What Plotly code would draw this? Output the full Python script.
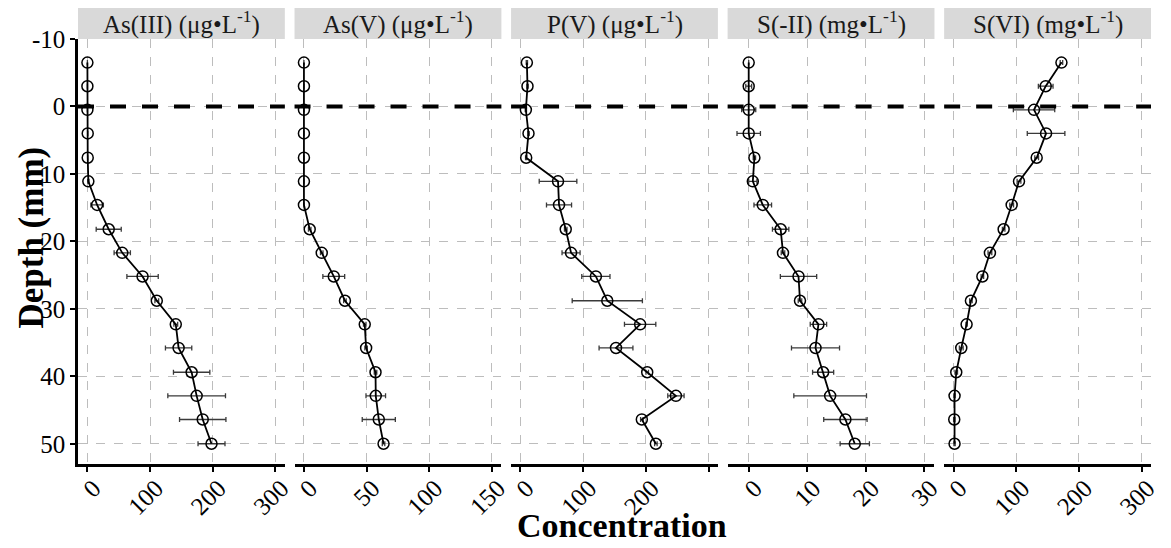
import plotly.graph_objects as go

depth = [-6.5, -3.0, 0.5, 4.0, 7.6, 11.1, 14.6, 18.2, 21.7, 25.2, 28.8, 32.3, 35.8, 39.4, 42.9, 46.4, 50.0]

as3 = [0, 0, 0, 0.5, 0.5, 1.5, 15.5, 34, 55.6, 88, 110.7, 141, 145.5, 166.3, 174.3, 184, 198]
as3_err = [0, 0, 0, 0, 0, 1, 10, 20, 13, 25, 3, 3, 21, 29, 46, 37, 21.5]

as5 = [0, 0, 0, 0, 0, 0, 0, 4.6, 14.2, 23.8, 32.7, 48.5, 49.6, 57.1, 57.3, 59.7, 63.5]
as5_err = [0, 0, 0, 0, 0, 0, 0, 1, 1, 8.7, 1, 1, 1, 1, 7.8, 13.2, 1]

p5 = [10.2, 11.2, 8.6, 12.8, 9.1, 59.9, 61.5, 72.2, 80.7, 120.3, 138.5, 190.9, 152.4, 202.2, 248, 193.6, 216]
p5_err = [1, 1, 1, 1, 1, 30, 20, 2, 14.4, 22.5, 56, 25, 27, 2, 13, 2, 2]

s2 = [0, 0, 0, 0, 0.97, 0.7, 2.4, 5.45, 5.85, 8.5, 8.75, 11.9, 11.4, 12.7, 13.9, 16.5, 18.1]
s2_err = [0, 0.5, 1.2, 2.0, 0.2, 0.7, 1.5, 1.4, 0.3, 3.1, 0.3, 1.4, 4.1, 1.8, 6.2, 3.7, 2.5]

s6 = [172.1, 147, 128.4, 147.6, 132.6, 104.4, 92.7, 79.9, 58, 46, 27.7, 20.8, 12.3, 4.3, 1.6, 1.1, 1.6]
s6_err = [2, 11.7, 33, 30, 3, 3, 3, 2, 3, 2, 2, 1, 3, 2, 1, 1, 1]

panel_titles = ["As(III) (μg•L<sup>-1</sup>)", "As(V) (μg•L<sup>-1</sup>)", "P(V) (μg•L<sup>-1</sup>)",
                "S(-II) (mg•L<sup>-1</sup>)", "S(VI) (mg•L<sup>-1</sup>)"]
series = [as3, as5, p5, s2, s6]
errors = [as3_err, as5_err, p5_err, s2_err, s6_err]
x_ranges = [[-15, 315], [-7.5, 157.5], [-15, 315], [-3.6, 31.7], [-15, 315]]
x_ticks = [[0, 100, 200, 300], [0, 50, 100, 150], [0, 100, 200, 300], [0, 10, 20, 30], [0, 100, 200, 300]]
x_ticktext = [["0", "100", "200", "300"], ["0", "50", "100", "150"], ["0", "100", "200", ""],
              ["0", "10", "20", "30"], ["0", "100", "200", "300"]]
y_ticks = [-10, 0, 10, 20, 30, 40, 50]
y_ticktext = ["-10", "0", "10", "20", "30", "40", "50"]

FONT = "Liberation Serif"
OFF = 8  # the page body has an 8px margin; the figure is drawn 8px right/down
W, H = 1171 - OFF, 548 - OFF
ML, MR, MT, MB = 77.5 - OFF, 19.7, 39 - OFF, 84
plot_w = W - ML - MR
plot_h = H - MT - MB
panel_w = 207 / plot_w
gap = (1 - 5 * panel_w) / 4
strip_h = 33 / plot_h

fig = go.Figure()
layout = dict(
    width=W, height=H,
    margin=dict(l=ML, r=MR, t=MT, b=MB, pad=0, autoexpand=False),
    paper_bgcolor="white", plot_bgcolor="white",
    showlegend=False,
    font=dict(family=FONT, color="black", size=24),
)
shapes = []
annotations = []
for i in range(5):
    xa = "x" if i == 0 else f"x{i+1}"
    xname = "xaxis" if i == 0 else f"xaxis{i+1}"
    d0 = i * (panel_w + gap)
    fig.add_trace(go.Scatter(
        x=series[i], y=depth, xaxis=xa, yaxis="y",
        mode="lines+markers",
        line=dict(color="black", width=1.8),
        marker=dict(symbol="circle-open", size=11, color="black", line=dict(width=1.5, color="black")),
        error_x=dict(type="data", array=errors[i], visible=True, color="#3a3a3a", thickness=1.3, width=2.5),
    ))
    layout[xname] = dict(
        domain=[d0, d0 + panel_w], range=x_ranges[i], anchor="y", automargin=False,
        tickmode="array", tickvals=x_ticks[i], ticktext=x_ticktext[i],
        ticks="outside", ticklen=5, tickwidth=2, tickcolor="black",
        showline=True, linewidth=2.5, linecolor="black",
        showgrid=True, gridcolor="#BDBDBD", griddash="dash", gridwidth=1,
        zeroline=False, tickangle=-45, ticklabelshift=6, ticklabelstandoff=-8,
        tickfont=dict(family=FONT, size=25, color="black"),
    )
    shapes.append(dict(type="rect", xref=f"{xa} domain", yref="paper", x0=0, x1=1, y0=1, y1=1 + strip_h,
                       fillcolor="#D9D9D9", line=dict(width=0), layer="below"))
    shapes.append(dict(type="line", xref=f"{xa} domain", yref="y", x0=0, x1=1, y0=0, y1=0,
                       line=dict(color="black", width=4, dash="16px,16px")))
    annotations.append(dict(text=panel_titles[i], xref=f"{xa} domain", yref="paper", x=0.5, y=1 + strip_h / 2,
                            xanchor="center", yanchor="middle", showarrow=False,
                            font=dict(family=FONT, size=25, color="#1a1a1a")))

layout["yaxis"] = dict(
    domain=[0, 1], range=[53.0, -10.0], anchor="x", automargin=False,
    tickmode="array", tickvals=y_ticks, ticktext=y_ticktext,
    ticks="outside", ticklen=5, tickwidth=2, tickcolor="black",
    showline=True, linewidth=2.5, linecolor="black",
    showgrid=True, gridcolor="#BDBDBD", griddash="dash", gridwidth=1,
    zeroline=False, tickfont=dict(family=FONT, size=25, color="black"),
)
annotations.append(dict(text="<b>Depth (mm)</b>", xref="paper", yref="paper",
                        x=(30 - OFF - ML) / plot_w, y=(H - MB - (238 - OFF)) / plot_h,
                        xanchor="center", yanchor="middle", textangle=-90, showarrow=False,
                        font=dict(family=FONT, size=35, color="black")))
annotations.append(dict(text="<b>Concentration</b>", xref="paper", yref="paper",
                        x=(622 - OFF - ML) / plot_w, y=(H - MB - (525 - OFF)) / plot_h,
                        xanchor="center", yanchor="middle", showarrow=False,
                        font=dict(family=FONT, size=34, color="black")))
layout["shapes"] = shapes
layout["annotations"] = annotations
fig.update_layout(**layout)
fig.write_html("out.html")
